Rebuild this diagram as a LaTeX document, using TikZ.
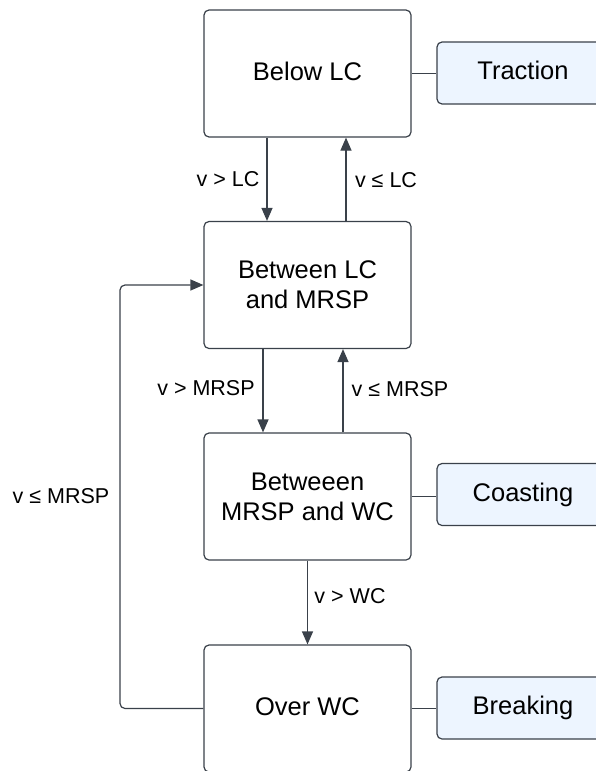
\documentclass[tikz,border=0pt]{standalone}
\usepackage{fontspec}
\setmainfont{Liberation Sans}
\usetikzlibrary{arrows.meta}
\definecolor{edge}{HTML}{3A414A}
\definecolor{actfill}{HTML}{EDF5FF}
\tikzset{
  state/.style={draw=edge, line width=1.2pt, fill=white, rounded corners=5pt,
    minimum width=207pt, minimum height=127pt, align=center, inner sep=0pt,
    font=\fontsize{25.5}{30}\selectfont},
  oneline/.style={text height=18.5pt, text depth=5.5pt},
  action/.style={draw=edge, line width=1.2pt, fill=actfill, rounded corners=5pt,
    minimum width=172pt, minimum height=62pt, inner sep=0pt, oneline,
    font=\fontsize{25.5}{30}\selectfont},
  link/.style={draw=edge, line width=1.2pt},
  flow/.style={link, -{Triangle[length=13pt,width=11pt]}},
  cond/.style={font=\fontsize{21.5}{26}\selectfont, inner sep=0pt}
}
\begin{document}
\begin{tikzpicture}[x=1pt, y=-1pt]
  \useasboundingbox (0,0) rectangle (596,771);
  \clip (0,0) rectangle (596,771);

  % speed regions
  \node[state, oneline] (below) at (307.5,73.5) {Below LC};
  \node[state] (between) at (307.5,285)  {Between LC\\and MRSP};
  \node[state] (mrspwc)  at (307.5,496.5){Betweeen\\MRSP and WC};
  \node[state, oneline] (over) at (307.5,708.5){Over WC};

  % resulting actions
  \node[action] (traction) at (523,73)    {Traction};
  \node[action] (coasting) at (523,494.5) {Coasting};
  \node[action] (breaking) at (523,708)   {Breaking};

  \draw[link] (below.east)  -- (below.east -| traction.west);
  \draw[link] (mrspwc.east) -- (mrspwc.east -| coasting.west);
  \draw[link] (over.east)   -- (over.east -| breaking.west);

  % transitions
  \draw[flow] ([xshift=-40.5pt]below.south) -- ([xshift=-40.5pt]between.north);
  \draw[flow] ([xshift=38.5pt]between.north) -- ([xshift=38.5pt]below.south);
  \draw[flow] ([xshift=-44.5pt]between.south) -- ([xshift=-44.5pt]mrspwc.north);
  \draw[flow] ([xshift=35.5pt]mrspwc.north) -- ([xshift=35.5pt]between.south);
  \draw[flow] (mrspwc.south) -- (over.north);

  \coordinate (loopbot) at (120,708.5);
  \coordinate (looptop) at (120,285);
  \draw[flow, rounded corners=5pt] (over.west) -- (loopbot) -- (looptop) -- (between.west);

  % transition conditions
  \node[cond] (c1) at (228,179) {v > LC};
  \node[cond] (c2) at (386,180) {v ≤ LC};
  \node[cond] (c3) at (206,388) {v > MRSP};
  \node[cond] (c4) at (400,389) {v ≤ MRSP};
  \node[cond] (c5) at (350,596) {v > WC};
  \node[cond] (c6) at (61,496)  {v ≤ MRSP};
\end{tikzpicture}
\end{document}
